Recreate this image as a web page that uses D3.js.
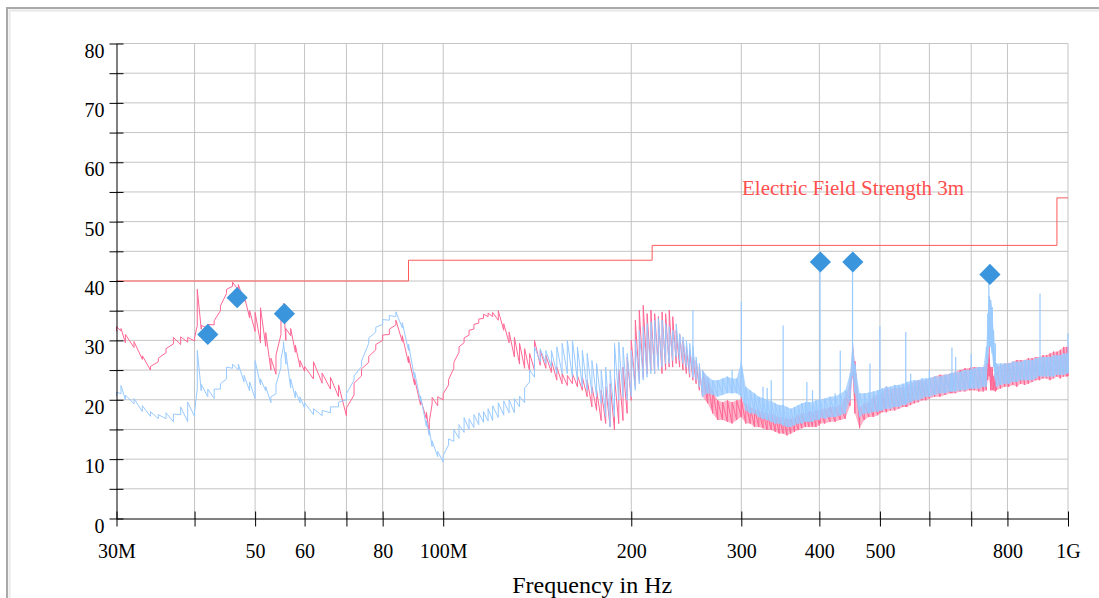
<!DOCTYPE html>
<html>
<head>
<meta charset="utf-8">
<script src="https://cdn.jsdelivr.net/npm/d3@7"></script>
<style>
  body { margin: 0; background: #fff; }
  svg { display: block; }
  text { font-family: "Liberation Serif", "Times New Roman", serif; }
</style>
</head>
<body>
<svg id="chart" width="1099" height="598"></svg>
<script>
// frequency bins (MHz), each with the min / max level (dBuV/m) seen in that bin
const freqMHz = [
  30, 30.5, 31, 32, 33, 34, 35, 36, 37, 38, 39, 40, 40.4, 41, 42, 43, 44, 45, 46, 47,
  48, 49, 50, 51, 52, 53, 54, 55, 55.5, 56, 57, 58, 59, 60, 62, 64, 66, 68, 70,
  72, 74, 76, 78, 80, 82, 84, 86, 88, 90, 92, 94, 95, 96, 98, 100,
  102, 104, 106, 108, 110, 112, 114, 116, 118, 120, 122.5, 125, 127.5, 130, 132.5, 135, 137.5,
  140, 143, 146, 149, 152, 155, 158, 161, 164, 167, 170, 173, 176, 179, 182, 185, 188, 191, 194, 197,
  200, 203, 206, 209, 212, 215, 218, 221, 224, 227, 230, 233, 236, 239, 242, 245, 248, 251, 254, 257, 260,
  265, 270, 275, 280, 285, 290, 295, 300, 305, 310, 315, 320, 325, 330, 335, 340, 345, 350, 355, 360,
  365, 370, 375, 380, 385, 390, 395, 400, 401, 408, 416, 424, 432, 440, 448, 452, 456, 464, 472, 480,
  488, 496, 500, 504, 512, 520, 528, 536, 544, 550, 552, 560, 568, 576, 584, 592, 600,
  612, 624, 636, 648, 652, 660, 672, 684, 696, 700, 708, 720, 732, 740, 744, 748, 752, 756, 760, 765,
  768, 780, 792, 804, 816, 828, 840, 852, 864, 876, 888, 900, 912, 924, 936, 948, 960, 972, 984, 996, 1000
];

const pinkLo = [
  31.5, 31.6, 29.6, 28.8, 26.8, 25.0, 26.4, 27.9, 29.4, 29.3, 29.7, 29.9, 32.5, 31.9, 32.1, 32.6, 35.0, 37.9, 39.1, 38.5,
  36.6, 33.8, 31.5, 29.6, 29.0, 25.0, 24.3, 31.0, 35.0, 30.0, 30.8, 28.0, 25.5, 24.8, 23.5, 22.8, 21.8, 20.5, 17.3,
  20.8, 24.0, 26.3, 28.4, 30.0, 31.0, 32.6, 29.8, 26.2, 22.5, 19.1, 16.8, 14.3, 19.3, 19.0, 20.0,
  22.5, 25.3, 28.0, 29.6, 30.9, 31.9, 32.9, 33.7, 34.0, 34.0, 33.4, 31.7, 29.6, 27.2, 26.0, 25.3, 24.8,
  25.0, 25.8, 25.3, 24.6, 23.3, 22.7, 22.4, 22.7, 22.2, 21.6, 20.5, 18.8, 18.2, 16.5, 16.0, 15.4, 14.9, 16.0, 16.5, 17.7,
  19.9, 22.2, 23.3, 23.8, 24.4, 25.0, 24.4, 25.5, 24.4, 25.0, 25.5, 25.5, 26.1, 25.5, 25.0, 24.4, 23.8, 23.3, 22.7, 21.6, 20.5,
  19.4, 17.7, 16.6, 16.6, 16.3, 16.0, 16.6, 17.1, 16.0, 16.0, 15.4, 15.4, 15.2, 14.9, 14.9, 14.6, 14.3, 14.3, 14.0, 14.3,
  14.6, 14.9, 15.2, 15.4, 15.4, 15.4, 15.4, 15.7, 16.0, 16.0, 16.3, 16.3, 16.6, 16.8, 19.0, 24.0, 17.7, 15.2, 16.6, 17.1,
  17.1, 17.4, 17.7, 17.9, 17.9, 18.2, 18.2, 18.5, 18.8, 18.8, 18.8, 19.1, 19.4, 19.6, 19.9, 19.9, 20.2,
  20.5, 20.5, 20.8, 21.1, 21.1, 21.1, 21.4, 21.4, 21.6, 21.6, 21.6, 21.4, 21.4, 21.6, 23.3, 24.0, 21.6, 21.6, 21.6, 21.4,
  21.6, 21.9, 22.2, 22.2, 22.5, 22.2, 22.7, 22.5, 22.7, 23.0, 23.3, 23.3, 23.6, 23.6, 23.3, 23.6, 23.9, 23.6, 23.9, 23.9, 24.0
];
const pinkHi = [
  32.3, 32.0, 31.0, 29.8, 27.4, 25.6, 27.0, 28.6, 30.5, 30.6, 30.5, 30.4, 38.6, 32.5, 32.7, 33.3, 35.8, 38.6, 39.8, 39.4,
  37.6, 35.0, 34.7, 35.5, 31.3, 27.0, 27.5, 35.0, 36.2, 32.0, 32.0, 29.2, 26.6, 25.6, 26.4, 24.5, 23.8, 22.5, 18.6,
  22.8, 25.2, 27.3, 29.3, 30.9, 31.9, 33.4, 30.8, 27.3, 23.5, 20.1, 17.9, 16.3, 20.4, 20.5, 21.0,
  23.4, 26.3, 28.9, 30.4, 31.7, 32.7, 33.6, 34.4, 34.6, 34.7, 35.0, 32.8, 31.4, 30.5, 29.5, 28.6, 27.8,
  30.0, 28.3, 27.5, 26.6, 25.5, 24.4, 24.1, 24.4, 24.1, 23.8, 23.3, 22.2, 21.6, 21.6, 22.2, 22.7, 23.8, 25.0, 25.5, 27.2,
  30.0, 33.4, 35.1, 35.9, 34.5, 35.1, 34.5, 34.0, 34.8, 34.5, 35.1, 34.0, 31.7, 31.1, 30.0, 28.9, 28.3, 27.2, 26.6, 25.5, 25.0,
  23.3, 21.6, 19.9, 19.6, 19.9, 19.6, 19.9, 20.0, 19.4, 18.8, 18.5, 18.2, 17.9, 17.7, 17.7, 17.4, 17.1, 17.1, 16.8, 16.8,
  17.1, 17.4, 17.7, 17.7, 18.0, 18.0, 18.2, 18.2, 18.5, 18.5, 18.8, 18.8, 19.1, 20.5, 23.0, 29.7, 26.5, 18.8, 19.4, 19.6,
  20.5, 20.8, 20.8, 21.1, 22.2, 21.6, 22.2, 21.9, 22.2, 22.0, 22.5, 22.7, 23.0, 23.3, 23.3, 23.3, 23.6,
  23.9, 24.2, 24.2, 24.4, 24.4, 24.7, 25.0, 25.3, 25.3, 25.5, 25.5, 25.5, 25.5, 26.1, 27.8, 27.0, 25.5, 25.5, 23.9, 24.5,
  25.5, 25.8, 26.1, 26.1, 26.4, 26.7, 26.7, 26.7, 27.0, 27.0, 27.2, 27.2, 27.5, 27.5, 27.8, 28.1, 28.1, 28.4, 28.9, 28.9, 29.0
];

const blueLo = [
  20.6, 21.0, 20.0, 19.3, 18.0, 17.2, 16.8, 16.8, 16.3, 17.5, 16.3, 17.2, 21.8, 21.5, 20.5, 20.2, 21.8, 23.5, 25.3, 25.0,
  23.0, 21.5, 20.2, 22.5, 21.5, 19.5, 21.0, 25.5, 29.0, 26.0, 22.0, 20.3, 19.5, 18.6, 17.5, 17.3, 17.8, 18.8, 20.0,
  23.3, 25.6, 29.5, 31.4, 32.7, 33.4, 34.0, 32.1, 28.3, 23.6, 19.7, 15.5, 14.0, 12.1, 10.4, 9.5,
  12.4, 13.0, 13.5, 14.5, 15.0, 15.3, 15.8, 16.2, 16.4, 16.5, 17.0, 17.4, 17.8, 17.8, 18.8, 19.5, 23.0,
  23.8, 26.4, 26.1, 25.5, 24.4, 24.4, 24.4, 23.8, 23.3, 22.2, 21.6, 21.1, 20.5, 19.4, 17.1, 15.4, 17.1, 19.9, 20.5, 19.9,
  20.5, 21.6, 22.7, 23.3, 23.8, 24.4, 24.4, 25.0, 25.5, 26.1, 26.1, 26.6, 27.2, 26.6, 26.1, 25.5, 24.4, 23.8, 23.3, 22.2, 20.5,
  21.1, 20.8, 20.5, 20.8, 21.1, 21.1, 21.1, 20.5, 18.2, 17.7, 17.7, 17.1, 16.8, 16.6, 16.3, 16.0, 16.0, 15.7, 15.4, 15.4,
  15.7, 16.0, 16.0, 16.3, 16.3, 16.3, 16.6, 16.6, 17.0, 16.8, 17.1, 17.1, 17.4, 17.7, 20.0, 24.0, 21.1, 17.1, 17.7, 17.7,
  18.0, 18.0, 18.2, 18.2, 18.5, 18.5, 18.8, 18.8, 19.1, 19.1, 19.4, 19.6, 19.9, 19.9, 20.2, 20.5, 20.5,
  20.8, 21.1, 21.1, 21.4, 21.4, 21.4, 21.6, 21.6, 21.9, 21.9, 21.9, 21.9, 22.2, 22.2, 26.1, 28.9, 28.9, 27.8, 25.5, 23.5,
  22.2, 22.5, 22.7, 22.7, 23.0, 23.0, 23.3, 23.3, 23.3, 23.3, 23.6, 24.0, 23.9, 23.9, 23.9, 23.9, 24.2, 24.2, 24.2, 24.4, 24.5
];
const blueHi = [
  21.3, 22.4, 20.8, 20.2, 19.0, 18.0, 17.5, 17.8, 17.6, 18.8, 19.6, 18.0, 28.3, 22.6, 21.8, 21.8, 22.7, 25.5, 26.0, 26.0,
  24.1, 23.0, 26.6, 23.5, 22.2, 20.5, 22.5, 26.8, 29.8, 28.0, 23.5, 21.5, 20.5, 19.5, 18.5, 18.2, 18.8, 19.6, 21.0,
  24.0, 26.5, 30.4, 32.2, 33.5, 34.2, 34.8, 33.0, 29.4, 24.6, 20.6, 16.5, 15.0, 13.1, 11.3, 10.6,
  13.4, 15.0, 15.8, 17.0, 16.8, 17.5, 17.8, 18.0, 18.5, 19.0, 19.5, 19.8, 20.0, 20.2, 20.6, 22.0, 25.0,
  28.9, 28.6, 28.3, 28.3, 28.9, 29.5, 30.0, 30.0, 28.9, 28.3, 27.8, 26.6, 26.1, 25.0, 25.5, 25.0, 29.5, 29.7, 28.9, 27.8,
  28.3, 30.0, 31.7, 32.3, 32.8, 33.1, 33.4, 33.7, 33.4, 32.8, 32.3, 31.7, 32.8, 31.1, 30.6, 30.0, 29.5, 29.0, 27.2, 26.1, 25.0,
  23.9, 23.3, 23.3, 23.6, 23.9, 23.6, 23.6, 26.5, 22.2, 21.6, 21.1, 20.5, 20.3, 20.0, 19.8, 19.4, 19.1, 19.1, 18.8, 18.5,
  18.8, 19.1, 19.4, 19.6, 19.6, 19.6, 19.9, 20.0, 20.0, 20.2, 20.5, 20.6, 21.0, 21.6, 24.5, 29.5, 26.0, 21.1, 21.1, 21.2,
  21.4, 21.6, 21.7, 21.9, 22.2, 22.2, 22.5, 22.5, 22.7, 22.8, 23.0, 23.2, 23.3, 23.3, 23.6, 23.6, 23.7,
  23.9, 23.9, 24.2, 24.4, 24.5, 24.6, 24.7, 25.0, 25.0, 25.1, 25.3, 25.5, 25.5, 28.9, 34.5, 37.5, 36.8, 35.6, 31.7, 26.3,
  26.1, 26.1, 26.1, 26.1, 26.4, 26.4, 26.4, 26.7, 26.7, 26.7, 27.0, 27.1, 27.2, 27.2, 27.2, 27.5, 27.5, 27.5, 27.8, 27.8, 27.9
];

// narrow single-frequency peaks standing out of the noise band
const blueSpikeFreq = [251, 290, 300, 325, 330, 335, 350, 382, 390, 401, 424, 432, 452, 482, 500,
                       550, 560, 600, 652, 661, 700, 747, 765, 902, 1000];
const blueSpikeTop = [35.1, 25.0, 36.5, 22.2, 22.0, 23.3, 32.5, 23.0, 21.6, 43.8, 21.1, 28.3, 43.8, 26.1, 32.4,
                      31.4, 24.4, 25.0, 28.8, 27.2, 27.7, 42.5, 29.5, 37.9, 31.2];
const pinkSpikeFreq = [300, 748];
const pinkSpikeTop = [24.0, 31.1];

// limit line steps
const limitFreq = [30, 88, 216, 960, 1000];
const limitLevel = [40, 43.5, 46, 54, 54];

// final measurement markers
const markerFreq = [42.0, 46.8, 55.7, 401.5, 452.5, 750];
const markerLevel = [31.0, 37.2, 34.5, 43.2, 43.2, 41.1];

// axis ticks
const xTicks = [30, 40, 50, 60, 70, 80, 100, 200, 300, 400, 500, 600, 700, 800, 1000];
const xLabels = { 30: "30M", 50: "50", 60: "60", 80: "80", 100: "100M", 200: "200", 300: "300",
                  400: "400", 500: "500", 800: "800", 1000: "1G" };
const yTicks = [0, 5, 10, 15, 20, 25, 30, 35, 40, 45, 50, 55, 60, 65, 70, 75, 80];

const svg = d3.select("#chart");
const plotLeft = 116.5, plotRight = 1068, plotTop = 43.5, plotBottom = 518.5;

const x = d3.scaleLog().domain([30, 1000]).range([plotLeft, plotRight]);
const y = d3.scaleLinear().domain([0, 80]).range([plotBottom, plotTop]);

// outer frame
svg.append("path").attr("d", "M9.5,598V10.5H1099").attr("fill", "none")
    .attr("stroke", "#e8e8e8").attr("stroke-width", 2);
svg.append("path").attr("d", "M7,598V8H1099").attr("fill", "none")
    .attr("stroke", "#a9a9a9").attr("stroke-width", 2);

// grid
const grid = svg.append("g").attr("stroke", "#c4c4c4").attr("stroke-width", 1);
grid.selectAll("line.h").data(yTicks.filter(d => d > 0)).enter().append("line")
    .attr("x1", plotLeft).attr("x2", plotRight)
    .attr("y1", d => y(d)).attr("y2", d => y(d));
grid.selectAll("line.v").data(xTicks.filter(d => d > 30)).enter().append("line")
    .attr("x1", d => x(d)).attr("x2", d => x(d))
    .attr("y1", plotTop).attr("y2", plotBottom);

// traces: min -> max within each bin, the dense upper band also filled
const line = d3.line().x(d => x(d[0])).y(d => y(d[1]));
const band = d3.area()
    .defined(d => d[0] >= 260)
    .x(d => x(d[0])).y0(d => y(d[1])).y1(d => y(d[2]));

function drawTrace(lo, hi, spikeFreq, spikeTop, color, fillOpacity) {
    const rows = freqMHz.map((f, i) => [f, lo[i], hi[i]]);
    svg.append("path")
        .attr("d", band(rows))
        .attr("fill", color).attr("fill-opacity", fillOpacity).attr("stroke", "none");
    svg.append("path")
        .attr("d", line(freqMHz.flatMap((f, i) => [[f, lo[i]], [f, hi[i]]])))
        .attr("fill", "none").attr("stroke", color).attr("stroke-width", 1);
    svg.append("g").selectAll("line")
        .data(spikeFreq.map((f, i) => [f, spikeTop[i], lo[d3.bisectLeft(freqMHz, f)]]))
        .enter().append("line")
        .attr("x1", d => x(d[0])).attr("x2", d => x(d[0]))
        .attr("y1", d => y(d[2])).attr("y2", d => y(d[1]))
        .attr("stroke", color).attr("stroke-width", 1.2);
}

drawTrace(pinkLo, pinkHi, pinkSpikeFreq, pinkSpikeTop, "#ff6794", 0.5);
drawTrace(blueLo, blueHi, blueSpikeFreq, blueSpikeTop, "#99caff", 0.75);

// limit line
svg.append("path")
    .attr("d", d3.line().curve(d3.curveStepAfter)
        .x(d => x(d[0])).y(d => y(d[1]))(limitFreq.map((f, i) => [f, limitLevel[i]])))
    .attr("fill", "none").attr("stroke", "#ff5a5a").attr("stroke-width", 1);

svg.append("text")
    .attr("x", 742).attr("y", 195)
    .attr("font-size", 21).attr("fill", "#ff5050")
    .text("Electric Field Strength 3m");

// axes
const xAxis = svg.append("g")
    .attr("transform", `translate(0,${plotBottom})`)
    .call(d3.axisBottom(x).tickValues(xTicks).tickFormat(d => xLabels[d] || "")
        .tickSize(8).tickSizeOuter(0));
xAxis.selectAll(".tick line").attr("y1", -7).attr("stroke", "#000");
xAxis.selectAll(".tick text").attr("y", 39).attr("dy", 0)
    .attr("font-size", 20).attr("font-family", "Liberation Serif, serif").attr("fill", "#000");
xAxis.select(".domain").attr("stroke", "#000");

const yAxis = svg.append("g")
    .attr("transform", `translate(${plotLeft},0)`)
    .call(d3.axisLeft(y).tickValues(yTicks).tickFormat(d => d % 10 === 0 ? d : "")
        .tickSize(7).tickSizeOuter(0));
yAxis.selectAll(".tick line").attr("x1", 7).attr("stroke", "#000");
yAxis.selectAll(".tick text").attr("x", -12).attr("dy", 0).attr("y", 13.5)
    .attr("font-size", 20).attr("font-family", "Liberation Serif, serif").attr("fill", "#000");
yAxis.select(".domain").attr("stroke", "#000");

svg.append("text")
    .attr("x", (plotLeft + plotRight) / 2).attr("y", 593)
    .attr("text-anchor", "middle").attr("font-size", 24)
    .text("Frequency in Hz");

// markers
svg.selectAll("path.marker")
    .data(markerFreq.map((f, i) => [f, markerLevel[i]]))
    .enter().append("path")
    .attr("class", "marker")
    .attr("d", d3.symbol(d3.symbolSquare, 225)())
    .attr("transform", d => `translate(${x(d[0])},${y(d[1])}) rotate(45)`)
    .attr("fill", "#3b95dc");
</script>
</body>
</html>
